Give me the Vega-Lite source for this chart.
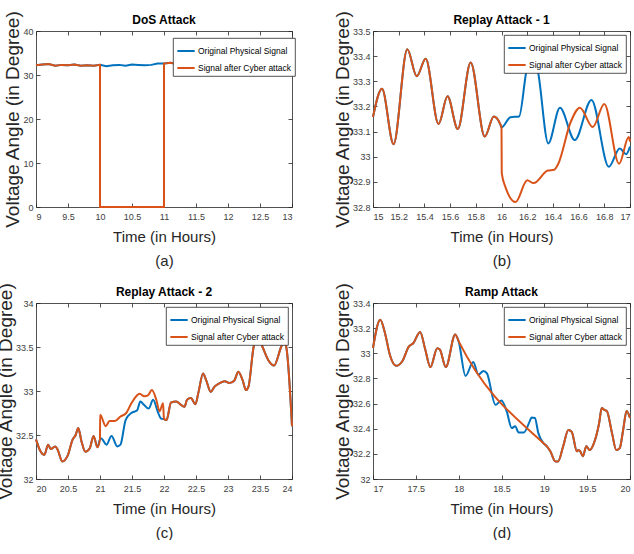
{
  "$schema": "https://vega.github.io/schema/vega-lite/v6.json",
  "padding": {"left": -4, "top": 10, "right": 0, "bottom": 0},
  "datasets": {
    "dos": [
      {"t": 9.0, "v": 32.2, "s": "orig"}, {"t": 9.1, "v": 32.4, "s": "orig"}, {"t": 9.2, "v": 32.5, "s": "orig"}, {"t": 9.3, "v": 32.1, "s": "orig"},
      {"t": 9.4, "v": 32.3, "s": "orig"}, {"t": 9.5, "v": 32.2, "s": "orig"}, {"t": 9.6, "v": 32.4, "s": "orig"}, {"t": 9.7, "v": 32.1, "s": "orig"},
      {"t": 9.8, "v": 32.2, "s": "orig"}, {"t": 9.9, "v": 32.1, "s": "orig"}, {"t": 10.0, "v": 32.3, "s": "orig"}, {"t": 10.1, "v": 32.0, "s": "orig"},
      {"t": 10.2, "v": 32.2, "s": "orig"}, {"t": 10.3, "v": 32.3, "s": "orig"}, {"t": 10.4, "v": 32.1, "s": "orig"}, {"t": 10.5, "v": 32.4, "s": "orig"},
      {"t": 10.6, "v": 32.3, "s": "orig"}, {"t": 10.7, "v": 32.2, "s": "orig"}, {"t": 10.8, "v": 32.3, "s": "orig"}, {"t": 10.9, "v": 32.6, "s": "orig"},
      {"t": 11.0, "v": 32.6, "s": "orig"}, {"t": 11.1, "v": 32.8, "s": "orig"}, {"t": 11.2, "v": 32.5, "s": "orig"}, {"t": 11.4, "v": 32.6, "s": "orig"},
      {"t": 11.6, "v": 32.4, "s": "orig"}, {"t": 11.8, "v": 32.7, "s": "orig"}, {"t": 12.0, "v": 32.5, "s": "orig"}, {"t": 12.2, "v": 32.8, "s": "orig"},
      {"t": 12.4, "v": 32.6, "s": "orig"}, {"t": 12.6, "v": 32.9, "s": "orig"}, {"t": 12.8, "v": 32.7, "s": "orig"}, {"t": 13.0, "v": 32.9, "s": "orig"},
      {"t": 9.0, "v": 32.2, "s": "attack"}, {"t": 9.1, "v": 32.4, "s": "attack"}, {"t": 9.2, "v": 32.5, "s": "attack"}, {"t": 9.3, "v": 32.1, "s": "attack"},
      {"t": 9.4, "v": 32.3, "s": "attack"}, {"t": 9.5, "v": 32.2, "s": "attack"}, {"t": 9.6, "v": 32.4, "s": "attack"}, {"t": 9.7, "v": 32.1, "s": "attack"},
      {"t": 9.8, "v": 32.2, "s": "attack"}, {"t": 9.9, "v": 32.1, "s": "attack"}, {"t": 10.0, "v": 32.3, "s": "attack"}, {"t": 10.0, "v": 0, "s": "attack"},
      {"t": 11.0, "v": 0, "s": "attack"}, {"t": 11.0, "v": 32.6, "s": "attack"}, {"t": 11.1, "v": 32.8, "s": "attack"}, {"t": 11.2, "v": 32.5, "s": "attack"},
      {"t": 11.4, "v": 32.6, "s": "attack"}, {"t": 11.6, "v": 32.4, "s": "attack"}, {"t": 11.8, "v": 32.7, "s": "attack"}, {"t": 12.0, "v": 32.5, "s": "attack"},
      {"t": 12.2, "v": 32.8, "s": "attack"}, {"t": 12.4, "v": 32.6, "s": "attack"}, {"t": 12.6, "v": 32.9, "s": "attack"}, {"t": 12.8, "v": 32.7, "s": "attack"},
      {"t": 13.0, "v": 32.9, "s": "attack"}
    ],
    "replay1": [
      {"t": 15.0, "v": 33.158, "s": "orig"}, {"t": 15.07, "v": 33.27, "s": "orig"}, {"t": 15.16, "v": 33.05, "s": "orig"}, {"t": 15.267, "v": 33.427, "s": "orig"},
      {"t": 15.34, "v": 33.32, "s": "orig"}, {"t": 15.41, "v": 33.39, "s": "orig"}, {"t": 15.51, "v": 33.13, "s": "orig"}, {"t": 15.58, "v": 33.24, "s": "orig"},
      {"t": 15.66, "v": 33.11, "s": "orig"}, {"t": 15.76, "v": 33.375, "s": "orig"}, {"t": 15.87, "v": 33.08, "s": "orig"}, {"t": 15.94, "v": 33.16, "s": "orig"},
      {"t": 15.99, "v": 33.13, "s": "orig"}, {"t": 16.0, "v": 33.117, "s": "orig"}, {"t": 16.07, "v": 33.157, "s": "orig"}, {"t": 16.137, "v": 33.16, "s": "orig"},
      {"t": 16.19, "v": 33.33, "s": "orig"}, {"t": 16.24, "v": 33.46, "s": "orig"}, {"t": 16.29, "v": 33.32, "s": "orig"}, {"t": 16.364, "v": 33.053, "s": "orig"},
      {"t": 16.455, "v": 33.195, "s": "orig"}, {"t": 16.57, "v": 33.066, "s": "orig"}, {"t": 16.7, "v": 33.226, "s": "orig"}, {"t": 16.835, "v": 32.96, "s": "orig"},
      {"t": 16.92, "v": 33.033, "s": "orig"}, {"t": 16.97, "v": 33.01, "s": "orig"}, {"t": 17.0, "v": 33.04, "s": "orig"},
      {"t": 15.0, "v": 33.158, "s": "attack"}, {"t": 15.07, "v": 33.27, "s": "attack"}, {"t": 15.16, "v": 33.05, "s": "attack"}, {"t": 15.267, "v": 33.427, "s": "attack"},
      {"t": 15.34, "v": 33.32, "s": "attack"}, {"t": 15.41, "v": 33.39, "s": "attack"}, {"t": 15.51, "v": 33.13, "s": "attack"}, {"t": 15.58, "v": 33.24, "s": "attack"},
      {"t": 15.66, "v": 33.11, "s": "attack"}, {"t": 15.76, "v": 33.375, "s": "attack"}, {"t": 15.87, "v": 33.08, "s": "attack"}, {"t": 15.94, "v": 33.16, "s": "attack"},
      {"t": 15.99, "v": 33.13, "s": "attack"}, {"t": 16.0, "v": 33.117, "s": "attack"}, {"t": 16.002, "v": 32.935, "s": "attack"}, {"t": 16.03, "v": 32.88, "s": "attack"},
      {"t": 16.11, "v": 32.82, "s": "attack"}, {"t": 16.2, "v": 32.906, "s": "attack"}, {"t": 16.25, "v": 32.895, "s": "attack"}, {"t": 16.36, "v": 32.945, "s": "attack"},
      {"t": 16.41, "v": 32.948, "s": "attack"}, {"t": 16.44, "v": 32.97, "s": "attack"}, {"t": 16.54, "v": 33.14, "s": "attack"}, {"t": 16.61, "v": 33.195, "s": "attack"},
      {"t": 16.71, "v": 33.118, "s": "attack"}, {"t": 16.8, "v": 33.21, "s": "attack"}, {"t": 16.915, "v": 32.972, "s": "attack"}, {"t": 16.99, "v": 33.078, "s": "attack"},
      {"t": 17.0, "v": 33.06, "s": "attack"}
    ],
    "replay2": [
      {"t": 20.0, "v": 32.45, "s": "orig"}, {"t": 20.06, "v": 32.33, "s": "orig"}, {"t": 20.13, "v": 32.275, "s": "orig"}, {"t": 20.19, "v": 32.39, "s": "orig"},
      {"t": 20.23, "v": 32.34, "s": "orig"}, {"t": 20.3, "v": 32.37, "s": "orig"}, {"t": 20.34, "v": 32.33, "s": "orig"}, {"t": 20.41, "v": 32.2, "s": "orig"},
      {"t": 20.5, "v": 32.275, "s": "orig"}, {"t": 20.57, "v": 32.445, "s": "orig"}, {"t": 20.62, "v": 32.5, "s": "orig"}, {"t": 20.66, "v": 32.58, "s": "orig"},
      {"t": 20.71, "v": 32.43, "s": "orig"}, {"t": 20.77, "v": 32.31, "s": "orig"}, {"t": 20.84, "v": 32.35, "s": "orig"}, {"t": 20.9, "v": 32.49, "s": "orig"},
      {"t": 20.96, "v": 32.36, "s": "orig"}, {"t": 21.0, "v": 32.45, "s": "orig"}, {"t": 21.02, "v": 32.46, "s": "orig"}, {"t": 21.1, "v": 32.39, "s": "orig"},
      {"t": 21.18, "v": 32.49, "s": "orig"}, {"t": 21.27, "v": 32.37, "s": "orig"}, {"t": 21.32, "v": 32.39, "s": "orig"}, {"t": 21.4, "v": 32.67, "s": "orig"},
      {"t": 21.49, "v": 32.75, "s": "orig"}, {"t": 21.58, "v": 32.78, "s": "orig"}, {"t": 21.63, "v": 32.88, "s": "orig"}, {"t": 21.69, "v": 32.84, "s": "orig"},
      {"t": 21.76, "v": 32.8, "s": "orig"}, {"t": 21.83, "v": 32.9, "s": "orig"}, {"t": 21.9, "v": 32.77, "s": "orig"}, {"t": 21.95, "v": 32.69, "s": "orig"},
      {"t": 22.0, "v": 32.68, "s": "orig"}, {"t": 22.04, "v": 32.67, "s": "orig"}, {"t": 22.11, "v": 32.87, "s": "orig"}, {"t": 22.19, "v": 32.88, "s": "orig"},
      {"t": 22.27, "v": 32.84, "s": "orig"}, {"t": 22.32, "v": 32.82, "s": "orig"}, {"t": 22.36, "v": 32.9, "s": "orig"}, {"t": 22.42, "v": 32.92, "s": "orig"},
      {"t": 22.49, "v": 32.85, "s": "orig"}, {"t": 22.54, "v": 32.99, "s": "orig"}, {"t": 22.61, "v": 33.2, "s": "orig"}, {"t": 22.66, "v": 33.12, "s": "orig"},
      {"t": 22.73, "v": 32.99, "s": "orig"}, {"t": 22.79, "v": 33.05, "s": "orig"}, {"t": 22.87, "v": 33.09, "s": "orig"}, {"t": 22.95, "v": 33.11, "s": "orig"},
      {"t": 23.02, "v": 33.09, "s": "orig"}, {"t": 23.1, "v": 33.12, "s": "orig"}, {"t": 23.16, "v": 33.22, "s": "orig"}, {"t": 23.23, "v": 33.12, "s": "orig"},
      {"t": 23.28, "v": 33.01, "s": "orig"}, {"t": 23.32, "v": 33.05, "s": "orig"}, {"t": 23.4, "v": 33.5, "s": "orig"}, {"t": 23.47, "v": 33.62, "s": "orig"},
      {"t": 23.54, "v": 33.5, "s": "orig"}, {"t": 23.63, "v": 33.35, "s": "orig"}, {"t": 23.72, "v": 33.29, "s": "orig"}, {"t": 23.83, "v": 33.5, "s": "orig"},
      {"t": 23.87, "v": 33.56, "s": "orig"}, {"t": 23.91, "v": 33.5, "s": "orig"}, {"t": 24.0, "v": 32.6, "s": "orig"},
      {"t": 20.0, "v": 32.45, "s": "attack"}, {"t": 20.06, "v": 32.33, "s": "attack"}, {"t": 20.13, "v": 32.275, "s": "attack"}, {"t": 20.19, "v": 32.39, "s": "attack"},
      {"t": 20.23, "v": 32.34, "s": "attack"}, {"t": 20.3, "v": 32.37, "s": "attack"}, {"t": 20.34, "v": 32.33, "s": "attack"}, {"t": 20.41, "v": 32.2, "s": "attack"},
      {"t": 20.5, "v": 32.275, "s": "attack"}, {"t": 20.57, "v": 32.445, "s": "attack"}, {"t": 20.62, "v": 32.5, "s": "attack"}, {"t": 20.66, "v": 32.58, "s": "attack"},
      {"t": 20.71, "v": 32.43, "s": "attack"}, {"t": 20.77, "v": 32.31, "s": "attack"}, {"t": 20.84, "v": 32.35, "s": "attack"}, {"t": 20.9, "v": 32.49, "s": "attack"},
      {"t": 20.96, "v": 32.36, "s": "attack"}, {"t": 21.0, "v": 32.45, "s": "attack"}, {"t": 21.002, "v": 32.73, "s": "attack"}, {"t": 21.09, "v": 32.6, "s": "attack"},
      {"t": 21.15, "v": 32.66, "s": "attack"}, {"t": 21.23, "v": 32.66, "s": "attack"}, {"t": 21.32, "v": 32.71, "s": "attack"}, {"t": 21.41, "v": 32.75, "s": "attack"},
      {"t": 21.49, "v": 32.86, "s": "attack"}, {"t": 21.62, "v": 32.97, "s": "attack"}, {"t": 21.69, "v": 32.94, "s": "attack"}, {"t": 21.75, "v": 32.95, "s": "attack"},
      {"t": 21.81, "v": 33.01, "s": "attack"}, {"t": 21.88, "v": 32.9, "s": "attack"}, {"t": 21.93, "v": 32.77, "s": "attack"}, {"t": 21.985, "v": 32.86, "s": "attack"},
      {"t": 22.0, "v": 32.68, "s": "attack"}, {"t": 22.04, "v": 32.67, "s": "attack"}, {"t": 22.11, "v": 32.87, "s": "attack"}, {"t": 22.19, "v": 32.88, "s": "attack"},
      {"t": 22.27, "v": 32.84, "s": "attack"}, {"t": 22.32, "v": 32.82, "s": "attack"}, {"t": 22.36, "v": 32.9, "s": "attack"}, {"t": 22.42, "v": 32.92, "s": "attack"},
      {"t": 22.49, "v": 32.85, "s": "attack"}, {"t": 22.54, "v": 32.99, "s": "attack"}, {"t": 22.61, "v": 33.2, "s": "attack"}, {"t": 22.66, "v": 33.12, "s": "attack"},
      {"t": 22.73, "v": 32.99, "s": "attack"}, {"t": 22.79, "v": 33.05, "s": "attack"}, {"t": 22.87, "v": 33.09, "s": "attack"}, {"t": 22.95, "v": 33.11, "s": "attack"},
      {"t": 23.02, "v": 33.09, "s": "attack"}, {"t": 23.1, "v": 33.12, "s": "attack"}, {"t": 23.16, "v": 33.22, "s": "attack"}, {"t": 23.23, "v": 33.12, "s": "attack"},
      {"t": 23.28, "v": 33.01, "s": "attack"}, {"t": 23.32, "v": 33.05, "s": "attack"}, {"t": 23.4, "v": 33.5, "s": "attack"}, {"t": 23.47, "v": 33.62, "s": "attack"},
      {"t": 23.54, "v": 33.5, "s": "attack"}, {"t": 23.63, "v": 33.35, "s": "attack"}, {"t": 23.72, "v": 33.29, "s": "attack"}, {"t": 23.83, "v": 33.5, "s": "attack"},
      {"t": 23.87, "v": 33.56, "s": "attack"}, {"t": 23.91, "v": 33.5, "s": "attack"}, {"t": 24.0, "v": 32.6, "s": "attack"}
    ],
    "ramp": [
      {"t": 17.0, "v": 33.042, "s": "orig"}, {"t": 17.085, "v": 33.267, "s": "orig"}, {"t": 17.14, "v": 33.16, "s": "orig"}, {"t": 17.2, "v": 32.98, "s": "orig"},
      {"t": 17.27, "v": 32.9, "s": "orig"}, {"t": 17.34, "v": 32.935, "s": "orig"}, {"t": 17.42, "v": 33.055, "s": "orig"}, {"t": 17.47, "v": 33.08, "s": "orig"},
      {"t": 17.55, "v": 33.17, "s": "orig"}, {"t": 17.61, "v": 33.03, "s": "orig"}, {"t": 17.67, "v": 32.89, "s": "orig"}, {"t": 17.75, "v": 33.04, "s": "orig"},
      {"t": 17.78, "v": 33.03, "s": "orig"}, {"t": 17.85, "v": 32.89, "s": "orig"}, {"t": 17.96, "v": 33.15, "s": "orig"}, {"t": 18.0, "v": 33.095, "s": "orig"},
      {"t": 18.08, "v": 32.82, "s": "orig"}, {"t": 18.17, "v": 32.93, "s": "orig"}, {"t": 18.23, "v": 32.83, "s": "orig"}, {"t": 18.29, "v": 32.86, "s": "orig"},
      {"t": 18.33, "v": 32.84, "s": "orig"}, {"t": 18.43, "v": 32.59, "s": "orig"}, {"t": 18.5, "v": 32.625, "s": "orig"}, {"t": 18.56, "v": 32.54, "s": "orig"},
      {"t": 18.62, "v": 32.405, "s": "orig"}, {"t": 18.66, "v": 32.42, "s": "orig"}, {"t": 18.7, "v": 32.37, "s": "orig"}, {"t": 18.76, "v": 32.37, "s": "orig"},
      {"t": 18.83, "v": 32.46, "s": "orig"}, {"t": 18.85, "v": 32.49, "s": "orig"}, {"t": 18.89, "v": 32.485, "s": "orig"}, {"t": 18.93, "v": 32.365, "s": "orig"},
      {"t": 18.99, "v": 32.285, "s": "orig"}, {"t": 19.03, "v": 32.26, "s": "orig"}, {"t": 19.07, "v": 32.22, "s": "orig"}, {"t": 19.13, "v": 32.14, "s": "orig"},
      {"t": 19.16, "v": 32.14, "s": "orig"}, {"t": 19.22, "v": 32.26, "s": "orig"}, {"t": 19.28, "v": 32.39, "s": "orig"}, {"t": 19.32, "v": 32.375, "s": "orig"},
      {"t": 19.38, "v": 32.22, "s": "orig"}, {"t": 19.4, "v": 32.23, "s": "orig"}, {"t": 19.42, "v": 32.22, "s": "orig"}, {"t": 19.45, "v": 32.18, "s": "orig"},
      {"t": 19.49, "v": 32.26, "s": "orig"}, {"t": 19.53, "v": 32.23, "s": "orig"}, {"t": 19.57, "v": 32.27, "s": "orig"}, {"t": 19.64, "v": 32.445, "s": "orig"},
      {"t": 19.67, "v": 32.565, "s": "orig"}, {"t": 19.7, "v": 32.55, "s": "orig"}, {"t": 19.73, "v": 32.54, "s": "orig"}, {"t": 19.79, "v": 32.365, "s": "orig"},
      {"t": 19.84, "v": 32.23, "s": "orig"}, {"t": 19.88, "v": 32.245, "s": "orig"}, {"t": 19.92, "v": 32.39, "s": "orig"}, {"t": 19.96, "v": 32.54, "s": "orig"},
      {"t": 20.0, "v": 32.485, "s": "orig"},
      {"t": 17.0, "v": 33.042, "s": "attack"}, {"t": 17.085, "v": 33.267, "s": "attack"}, {"t": 17.14, "v": 33.16, "s": "attack"}, {"t": 17.2, "v": 32.98, "s": "attack"},
      {"t": 17.27, "v": 32.9, "s": "attack"}, {"t": 17.34, "v": 32.935, "s": "attack"}, {"t": 17.42, "v": 33.055, "s": "attack"}, {"t": 17.47, "v": 33.08, "s": "attack"},
      {"t": 17.55, "v": 33.17, "s": "attack"}, {"t": 17.61, "v": 33.03, "s": "attack"}, {"t": 17.67, "v": 32.89, "s": "attack"}, {"t": 17.75, "v": 33.04, "s": "attack"},
      {"t": 17.78, "v": 33.03, "s": "attack"}, {"t": 17.85, "v": 32.89, "s": "attack"}, {"t": 17.96, "v": 33.15, "s": "attack"}, {"t": 18.0, "v": 33.095, "s": "attack"},
      {"t": 18.99, "v": 32.285, "s": "attack"}, {"t": 19.03, "v": 32.26, "s": "attack"}, {"t": 19.07, "v": 32.22, "s": "attack"}, {"t": 19.13, "v": 32.14, "s": "attack"},
      {"t": 19.16, "v": 32.14, "s": "attack"}, {"t": 19.22, "v": 32.26, "s": "attack"}, {"t": 19.28, "v": 32.39, "s": "attack"}, {"t": 19.32, "v": 32.375, "s": "attack"},
      {"t": 19.38, "v": 32.22, "s": "attack"}, {"t": 19.4, "v": 32.23, "s": "attack"}, {"t": 19.42, "v": 32.22, "s": "attack"}, {"t": 19.45, "v": 32.18, "s": "attack"},
      {"t": 19.49, "v": 32.26, "s": "attack"}, {"t": 19.53, "v": 32.23, "s": "attack"}, {"t": 19.57, "v": 32.27, "s": "attack"}, {"t": 19.64, "v": 32.445, "s": "attack"},
      {"t": 19.67, "v": 32.565, "s": "attack"}, {"t": 19.7, "v": 32.55, "s": "attack"}, {"t": 19.73, "v": 32.54, "s": "attack"}, {"t": 19.79, "v": 32.365, "s": "attack"},
      {"t": 19.84, "v": 32.23, "s": "attack"}, {"t": 19.88, "v": 32.245, "s": "attack"}, {"t": 19.92, "v": 32.39, "s": "attack"}, {"t": 19.96, "v": 32.54, "s": "attack"},
      {"t": 20.0, "v": 32.485, "s": "attack"}
    ]
  },
  "config": {
    "view": {"stroke": null},
    "axis": {
      "grid": false,
      "labelFont": "Liberation Sans, sans-serif",
      "labelFontSize": 9,
      "labelColor": "#404040",
      "domainColor": "#262626",
      "domainWidth": 0.8,
      "tickColor": "#262626",
      "tickWidth": 0.8,
      "tickSize": -4,
      "titleColor": "#262626",
      "titleFontWeight": "normal"
    },
    "axisX": {
      "labelPadding": 9,
      "titleFont": "Liberation Sans, sans-serif",
      "titleFontSize": 15,
      "titleLineHeight": 24,
      "titlePadding": 8
    },
    "axisY": {
      "labelPadding": 7,
      "titleFont": "Liberation Sans, sans-serif",
      "titleFontSize": 19,
      "titlePadding": 0
    },
    "title": {
      "font": "Liberation Sans, sans-serif",
      "fontSize": 12,
      "fontWeight": "bold",
      "color": "#000000",
      "offset": -17
    },
    "legend": {
      "orient": "top-right",
      "offset": 4,
      "fillColor": "#ffffff",
      "strokeColor": "#262626",
      "strokeWidth": 0.8,
      "padding": 3,
      "rowPadding": 2,
      "labelFont": "Liberation Sans, sans-serif",
      "labelFontSize": 8.5,
      "labelColor": "#000000",
      "labelOffset": 2,
      "symbolType": "stroke",
      "symbolStrokeWidth": 2,
      "symbolSize": 300
    },
    "line": {"strokeWidth": 2, "clip": true}
  },
  "columns": 2,
  "spacing": {"column": 81, "row": 96},
  "bounds": "flush",
  "resolve": {"scale": {"color": "independent"}},
  "concat": [
    {
      "width": 256, "height": 176,
      "title": "DoS Attack",
      "data": {"name": "dos"},
      "layer": [
        {
          "mark": {"type": "line", "interpolate": "linear"},
          "encoding": {
            "x": {"field": "t", "type": "quantitative", "scale": {"domain": [9, 13], "nice": false, "zero": false},
                  "axis": {"values": [9, 9.5, 10, 10.5, 11, 11.5, 12, 12.5, 13], "format": "~r", "title": ["Time (in Hours)", "(a)"]}},
            "y": {"field": "v", "type": "quantitative", "scale": {"domain": [0, 40], "nice": false},
                  "axis": {"values": [0, 10, 20, 30, 40], "format": "~r", "title": "Voltage Angle (in Degree)"}},
            "color": {"field": "s", "type": "nominal", "scale": {"domain": ["orig", "attack"], "range": ["#0072BD", "#D95319"]},
                      "legend": {"title": null, "orient": "none", "legendX": 137, "legendY": 7, "labelExpr": "datum.value == 'orig' ? 'Original Physical Signal' : 'Signal after Cyber attack'"}},
            "order": {"value": null}
          }
        },
        {
          "mark": {"type": "line", "opacity": 0},
          "encoding": {
            "x": {"field": "t", "type": "quantitative", "axis": {"orient": "top", "labels": false, "title": null, "values": [9, 9.5, 10, 10.5, 11, 11.5, 12, 12.5, 13]}},
            "y": {"field": "v", "type": "quantitative", "axis": {"orient": "right", "labels": false, "title": null, "values": [0, 10, 20, 30, 40]}}
          }
        }
      ],
      "resolve": {"axis": {"x": "independent", "y": "independent"}}
    },
    {
      "width": 257, "height": 176,
      "title": "Replay Attack - 1",
      "data": {"name": "replay1"},
      "layer": [
        {
          "mark": {"type": "line", "interpolate": "monotone"},
          "encoding": {
            "x": {"field": "t", "type": "quantitative", "scale": {"domain": [15, 17], "nice": false, "zero": false},
                  "axis": {"values": [15, 15.2, 15.4, 15.6, 15.8, 16, 16.2, 16.4, 16.6, 16.8, 17], "format": "~r", "title": ["Time (in Hours)", "(b)"]}},
            "y": {"field": "v", "type": "quantitative", "scale": {"domain": [32.8, 33.5], "nice": false, "zero": false},
                  "axis": {"values": [32.8, 32.9, 33, 33.1, 33.2, 33.3, 33.4, 33.5], "format": "~r", "title": "Voltage Angle (in Degree)"}},
            "color": {"field": "s", "type": "nominal", "scale": {"domain": ["orig", "attack"], "range": ["#0072BD", "#D95319"]},
                      "legend": {"title": null, "labelExpr": "datum.value == 'orig' ? 'Original Physical Signal' : 'Signal after Cyber attack'"}},
            "order": {"value": null}
          }
        },
        {
          "mark": {"type": "line", "opacity": 0},
          "encoding": {
            "x": {"field": "t", "type": "quantitative", "axis": {"orient": "top", "labels": false, "title": null, "values": [15, 15.2, 15.4, 15.6, 15.8, 16, 16.2, 16.4, 16.6, 16.8, 17]}},
            "y": {"field": "v", "type": "quantitative", "axis": {"orient": "right", "labels": false, "title": null, "values": [32.8, 32.9, 33, 33.1, 33.2, 33.3, 33.4, 33.5]}}
          }
        }
      ],
      "resolve": {"axis": {"x": "independent", "y": "independent"}}
    },
    {
      "width": 256, "height": 176,
      "title": "Replay Attack - 2",
      "data": {"name": "replay2"},
      "layer": [
        {
          "mark": {"type": "line", "interpolate": "monotone"},
          "encoding": {
            "x": {"field": "t", "type": "quantitative", "scale": {"domain": [20, 24], "nice": false, "zero": false},
                  "axis": {"values": [20, 20.5, 21, 21.5, 22, 22.5, 23, 23.5, 24], "format": "~r", "title": ["Time (in Hours)", "(c)"]}},
            "y": {"field": "v", "type": "quantitative", "scale": {"domain": [32, 34], "nice": false, "zero": false},
                  "axis": {"values": [32, 32.5, 33, 33.5, 34], "format": "~r", "title": "Voltage Angle (in Degree)"}},
            "color": {"field": "s", "type": "nominal", "scale": {"domain": ["orig", "attack"], "range": ["#0072BD", "#D95319"]},
                      "legend": {"title": null, "labelExpr": "datum.value == 'orig' ? 'Original Physical Signal' : 'Signal after Cyber attack'"}},
            "order": {"value": null}
          }
        },
        {
          "mark": {"type": "line", "opacity": 0},
          "encoding": {
            "x": {"field": "t", "type": "quantitative", "axis": {"orient": "top", "labels": false, "title": null, "values": [20, 20.5, 21, 21.5, 22, 22.5, 23, 23.5, 24]}},
            "y": {"field": "v", "type": "quantitative", "axis": {"orient": "right", "labels": false, "title": null, "values": [32, 32.5, 33, 33.5, 34]}}
          }
        }
      ],
      "resolve": {"axis": {"x": "independent", "y": "independent"}}
    },
    {
      "width": 257, "height": 176,
      "title": "Ramp Attack",
      "data": {"name": "ramp"},
      "layer": [
        {
          "mark": {"type": "line", "interpolate": "monotone"},
          "encoding": {
            "x": {"field": "t", "type": "quantitative", "scale": {"domain": [17, 20], "nice": false, "zero": false},
                  "axis": {"values": [17, 17.5, 18, 18.5, 19, 19.5, 20], "format": "~r", "title": ["Time (in Hours)", "(d)"]}},
            "y": {"field": "v", "type": "quantitative", "scale": {"domain": [32, 33.4], "nice": false, "zero": false},
                  "axis": {"values": [32, 32.2, 32.4, 32.6, 32.8, 33, 33.2, 33.4], "format": "~r", "title": "Voltage Angle (in Degree)"}},
            "color": {"field": "s", "type": "nominal", "scale": {"domain": ["orig", "attack"], "range": ["#0072BD", "#D95319"]},
                      "legend": {"title": null, "labelExpr": "datum.value == 'orig' ? 'Original Physical Signal' : 'Signal after Cyber attack'"}},
            "order": {"value": null}
          }
        },
        {
          "mark": {"type": "line", "opacity": 0},
          "encoding": {
            "x": {"field": "t", "type": "quantitative", "axis": {"orient": "top", "labels": false, "title": null, "values": [17, 17.5, 18, 18.5, 19, 19.5, 20]}},
            "y": {"field": "v", "type": "quantitative", "axis": {"orient": "right", "labels": false, "title": null, "values": [32, 32.2, 32.4, 32.6, 32.8, 33, 33.2, 33.4]}}
          }
        }
      ],
      "resolve": {"axis": {"x": "independent", "y": "independent"}}
    }
  ]
}
